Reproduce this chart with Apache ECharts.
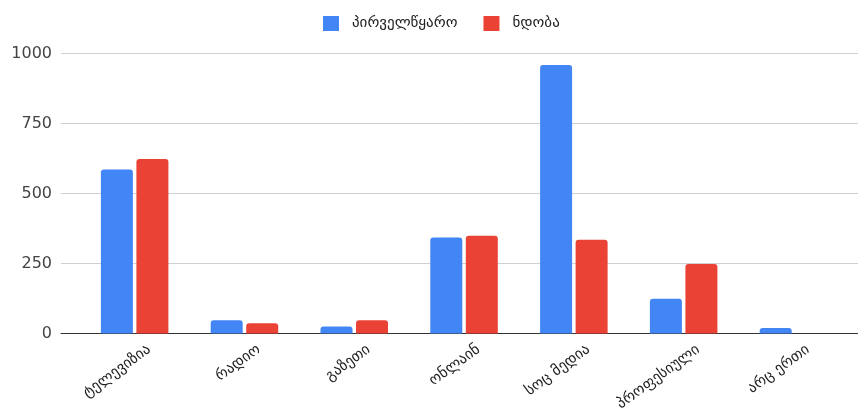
<!DOCTYPE html>
<html>
<head>
<meta charset="utf-8">
<script src="https://cdn.jsdelivr.net/npm/echarts@6/dist/echarts.min.js"></script>
<style>
  html, body { margin: 0; padding: 0; background: #fff; }
  #chart { width: 858px; height: 411px; }
</style>
</head>
<body>
<div id="chart"></div>
<script>
// Information sources: where people first hear news, and which they trust
const categories = ['ტელევიზია', 'რადიო', 'გაზეთი', 'ონლაინ', 'სოც მედია', 'პროფესიული', 'არც ერთი'];
const seriesNames = ['პირველწყარო', 'ნდობა'];
const firstSource = [586, 47, 25, 343, 959, 124, 20];
const trust = [623, 37, 47, 349, 335, 248, 0];
const yTicks = [0, 250, 500, 750, 1000];

const FONT = "'DejaVu Sans', 'Noto Sans', sans-serif";
const TOP = 53.5, BOTTOM = 77.5;

const chart = echarts.init(document.getElementById('chart'), null, { renderer: 'canvas' });

chart.setOption({
  animation: false,
  backgroundColor: '#ffffff',
  textStyle: { fontFamily: FONT },
  legend: {
    top: 11,
    left: 318,
    itemWidth: 16,
    itemHeight: 15,
    itemGap: 26,
    icon: 'rect',
    textStyle: { fontFamily: FONT, fontSize: 15, color: '#222', padding: [0, 0, 0, 8] },
    data: seriesNames
  },
  grid: [
    // full-width frame carrying the value scale, gridlines and baseline
    { left: 61, right: 0, top: TOP, bottom: BOTTOM, outerBoundsMode: 'none', containLabel: false },
    // category band where the bars sit
    { left: 79.75, right: 9.65, top: TOP, bottom: BOTTOM, outerBoundsMode: 'none', containLabel: false }
  ],
  xAxis: [
    {
      gridIndex: 0, type: 'value', min: 0, max: 1,
      axisLine: { show: true, lineStyle: { color: '#333', width: 1 } },
      axisTick: { show: false }, axisLabel: { show: false }, splitLine: { show: false }
    },
    {
      gridIndex: 1, type: 'category', data: categories,
      axisLine: { show: false }, axisTick: { show: false },
      axisLabel: {
        rotate: 36, margin: 25, interval: 0,
        padding: [0, -18, 0, 0],
        fontFamily: FONT, fontSize: 15, color: '#222'
      }
    }
  ],
  yAxis: [
    {
      gridIndex: 0, type: 'value', min: yTicks[0], max: yTicks[yTicks.length - 1], interval: 250,
      axisLine: { show: false }, axisTick: { show: false },
      axisLabel: { margin: 9, fontFamily: FONT, fontSize: 16, color: '#444', formatter: v => String(v) },
      splitLine: { lineStyle: { color: '#d0d0d0', width: 1 } }
    },
    {
      gridIndex: 1, type: 'value', min: yTicks[0], max: yTicks[yTicks.length - 1], interval: 250,
      show: false, splitLine: { show: false }
    }
  ],
  series: [
    {
      name: seriesNames[0], type: 'bar', xAxisIndex: 1, yAxisIndex: 1,
      data: firstSource, barWidth: 32, barGap: '11%',
      itemStyle: { color: '#4285F4', borderRadius: [3, 3, 0, 0] }
    },
    {
      name: seriesNames[1], type: 'bar', xAxisIndex: 1, yAxisIndex: 1,
      data: trust, barWidth: 32, barGap: '11%',
      itemStyle: { color: '#EA4335', borderRadius: [3, 3, 0, 0] }
    }
  ]
});
</script>
</body>
</html>
